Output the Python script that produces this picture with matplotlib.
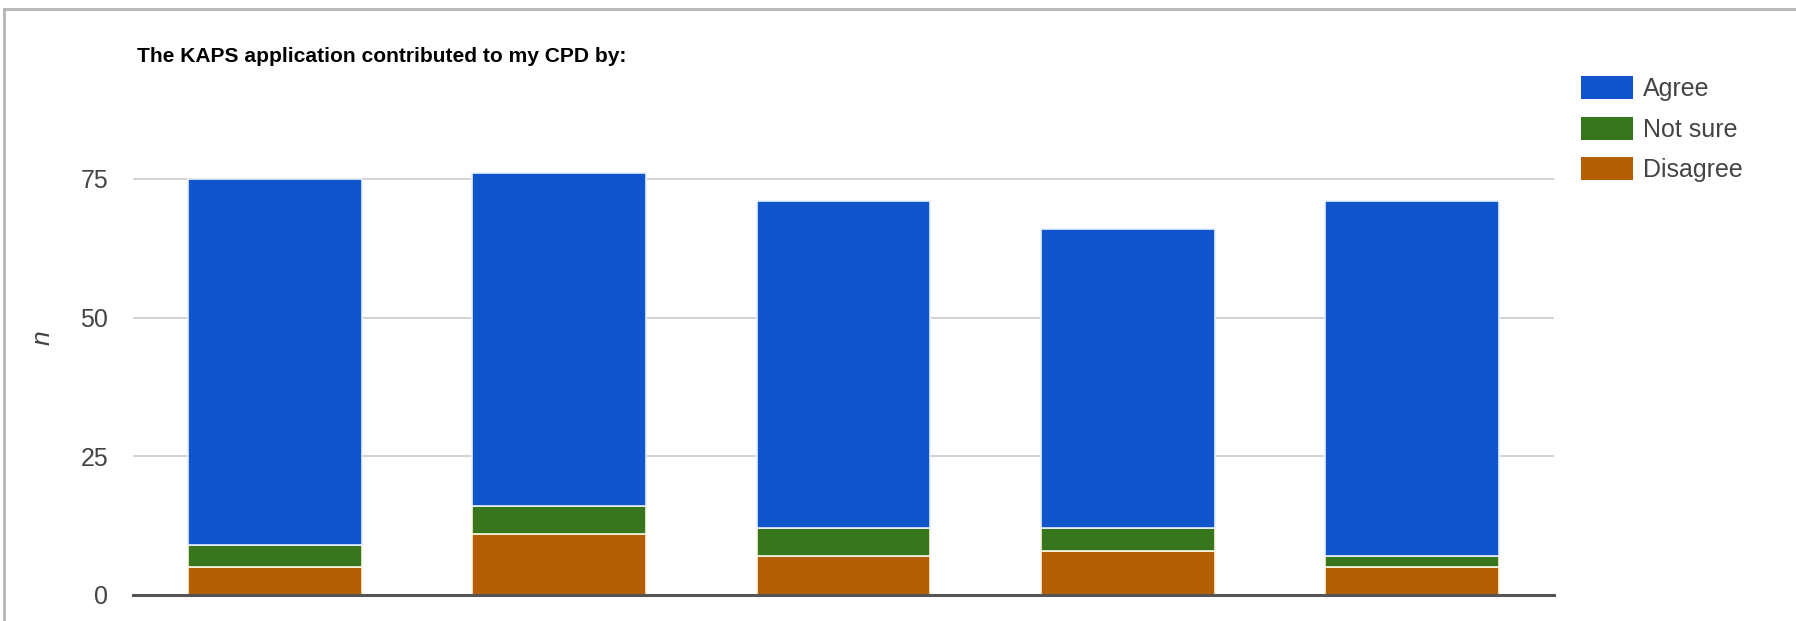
import matplotlib
matplotlib.use("Agg")
import matplotlib.pyplot as plt
from matplotlib import font_manager
from matplotlib.patches import Patch
from matplotlib.lines import Line2D
import numpy as np

# Survey responses per statement (counts)
statements = ["S1", "S2", "S3", "S4", "S5"]
disagree = [5, 11, 7, 8, 5]
not_sure = [4, 5, 5, 4, 2]
agree = [66, 60, 59, 54, 64]

series_names = ["Agree", "Not sure", "Disagree"]
colors = {"Agree": "#1155cc", "Not sure": "#38761d", "Disagree": "#b45f06"}
y_ticks = [0, 25, 50, 75]
title = "The KAPS application contributed to my CPD by:"

plt.rcParams["font.family"] = ["Liberation Sans", "DejaVu Sans"]

W, H = 1796, 621
fig = plt.figure(figsize=(W / 100, H / 100), dpi=100)

# plot area in pixel terms
left_px, right_px, base_px, top_px = 133, 1554, 595, 100
ax = fig.add_axes([left_px / W, 1 - base_px / H,
                   (right_px - left_px) / W, (base_px - top_px) / H])

x = np.arange(len(statements))
bw = 0.612
d = np.array(disagree)
ns = np.array(not_sure)
ag = np.array(agree)
ax.bar(x, d, width=bw, color=colors["Disagree"], edgecolor="#fdf6e3", linewidth=1.2, zorder=3)
ax.bar(x, ns, width=bw, bottom=d, color=colors["Not sure"], edgecolor="#fdf6e3", linewidth=1.2, zorder=3)
ax.bar(x, ag, width=bw, bottom=d + ns, color=colors["Agree"], edgecolor="#e8f0ff", linewidth=1.2, zorder=3)

px_per_unit = 416 / 75
ax.set_xlim(-0.5, len(statements) - 0.5)
ax.set_ylim(0, (base_px - top_px) / px_per_unit)

for t in y_ticks[1:]:
    ax.axhline(t, color="#cccccc", lw=1.2, zorder=1)
ax.axhline(0, color="#555555", lw=2.2, zorder=4, clip_on=False)

for s in ax.spines.values():
    s.set_visible(False)
ax.set_xticks([])
ax.set_yticks(y_ticks)
ax.tick_params(axis="y", length=0, pad=18, labelsize=18, labelcolor="#444444")

# axis title
fig.text(42.5 / W, 1 - 338 / H, "n", rotation=90, ha="center", va="center",
         fontsize=19, style="italic", color="#444444")

# chart title: prefer a narrow face, fit to the title width
names = {f.name for f in font_manager.fontManager.ttflist}
title_family = ["Liberation Sans Narrow", "Liberation Sans"] if "Liberation Sans Narrow" in names \
    else ["Liberation Sans", "DejaVu Sans"]
t_obj = fig.text(137 / W, 1 - 62.5 / H, title, ha="left", va="baseline",
                 fontsize=18.5, fontweight="bold", color="#000000", family=title_family)
renderer = fig.canvas.get_renderer()
w_now = t_obj.get_window_extent(renderer).width
t_obj.set_fontsize(18.5 * 491 / w_now)

handles = [Patch(facecolor=colors[n], edgecolor="none", label=n) for n in series_names]
fig.legend(handles=handles, loc="upper left",
           bbox_to_anchor=(1580.7 / W, 1 - 76 / H), bbox_transform=fig.transFigure,
           frameon=False, fontsize=18, handlelength=2.08, handleheight=1.04,
           handletextpad=0.4, labelspacing=0.62, borderpad=0, borderaxespad=0,
           labelcolor="#444444")

# outer frame (top and left edges)
fig.add_artist(Line2D([4 / W, 4 / W], [0, 1 - 9 / H], transform=fig.transFigure,
                      color="#b5b5b5", lw=2))
fig.add_artist(Line2D([4 / W, 1], [1 - 9 / H, 1 - 9 / H], transform=fig.transFigure,
                      color="#b5b5b5", lw=2))

fig.savefig("out.png", dpi=100)
